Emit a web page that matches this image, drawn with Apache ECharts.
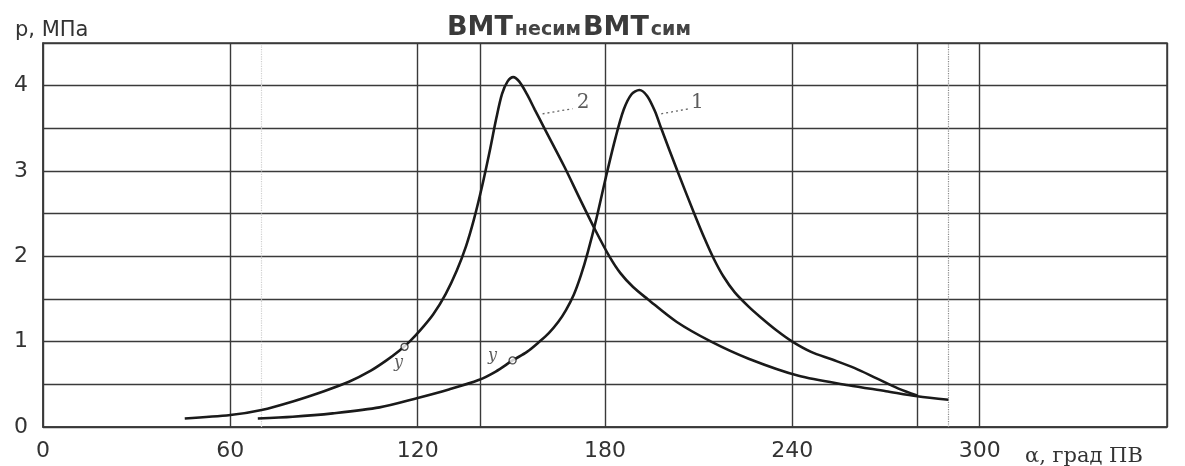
<!DOCTYPE html>
<html>
<head>
<meta charset="utf-8">
<script src="https://cdn.jsdelivr.net/npm/echarts@6/dist/echarts.min.js"></script>
<style>
  html, body { margin: 0; padding: 0; background: #fff; }
  #chart { width: 1185px; height: 466px; }
</style>
</head>
<body>
<div id="chart"></div>
<script>
// кривая 2 (несимметричная ВМТ)
var curve2Alpha = [45.4, 60, 70, 80, 90, 98, 105, 110, 114, 117.4, 121, 125, 129, 132.5, 135.5, 138, 140.5, 143, 145.2, 147, 148.8, 150.6, 152.5, 155, 157.5, 160.6, 167, 172, 177, 181.4, 185, 189, 193.6, 203, 214, 226, 242, 258, 270, 280, 290];
var curve2P     = [0.1, 0.14, 0.2, 0.3, 0.42, 0.53, 0.66, 0.78, 0.89, 1.0, 1.14, 1.32, 1.56, 1.83, 2.12, 2.43, 2.8, 3.22, 3.62, 3.9, 4.05, 4.1, 4.05, 3.9, 3.72, 3.5, 3.05, 2.67, 2.3, 2.0, 1.8, 1.64, 1.5, 1.23, 1.0, 0.8, 0.6, 0.49, 0.42, 0.36, 0.32];

// кривая 1 (симметричная ВМТ)
var curve1Alpha = [68.8, 80, 92.8, 107.8, 120, 130, 139.5, 145, 150.4, 155, 159, 162, 165, 167.5, 170, 172.3, 174.5, 177.3, 180.3, 183.3, 186, 188.5, 191, 193.5, 196, 198, 203.2, 208.6, 212, 215, 218, 221.5, 226, 230, 235, 240, 246, 252.8, 260, 267, 274, 280];
var curve1P     = [0.1, 0.12, 0.16, 0.23, 0.34, 0.44, 0.55, 0.65, 0.78, 0.88, 1.0, 1.1, 1.23, 1.37, 1.55, 1.78, 2.05, 2.45, 2.93, 3.38, 3.72, 3.9, 3.95, 3.88, 3.7, 3.5, 3.0, 2.5, 2.2, 1.96, 1.76, 1.58, 1.41, 1.28, 1.13, 1.0, 0.88, 0.79, 0.69, 0.57, 0.45, 0.37];

// точки "у"
var markAlpha = [115.8, 150.4];
var markP     = [0.94, 0.78];

// номера кривых и выноски
var annoText   = ['2', '1'];
var annoAlpha  = [173, 209.6];
var annoP      = [3.8, 3.8];
var leaderFrom = [[160, 3.67], [198, 3.67]];
var leaderTo   = [[169.6, 3.73], [207, 3.73]];

// оси
var xTicks = [0, 60, 120, 180, 240, 300];
var yTicks = [0, 1, 2, 3, 4];
var extraSolid  = [140, 280];
var extraDotted = [70, 290];

function pairs(xs, ys) {
    var out = [];
    for (var i = 0; i < xs.length; i++) out.push([xs[i], ys[i]]);
    return out;
}

var chart = echarts.init(document.getElementById('chart'));

var ink = '#1a1a1a';
var gridInk = '#3a3a3a';

var series = [
    {
        name: '2', type: 'line', data: pairs(curve2Alpha, curve2P),
        smooth: 0.3, symbol: 'none',
        lineStyle: { color: ink, width: 2.6 }, z: 5
    },
    {
        name: '1', type: 'line', data: pairs(curve1Alpha, curve1P),
        smooth: 0.3, symbol: 'none',
        lineStyle: { color: ink, width: 2.6 }, z: 5,
        markLine: {
            silent: true, symbol: ['none', 'none'], label: { show: false },
            data: extraSolid.map(function (v) {
                return { xAxis: v, lineStyle: { color: gridInk, width: 1.4, type: 'solid' } };
            }).concat(extraDotted.map(function (v, i) {
                return { xAxis: v, lineStyle: { color: i === 0 ? '#d0d0d0' : '#8a8a8a', width: 1.2, type: 'dotted' } };
            }))
        }
    },
    {
        type: 'scatter', symbol: 'circle', symbolSize: 7, z: 6,
        data: pairs(markAlpha, markP).map(function (p, i) {
            return { value: p, label: { offset: i === 0 ? [-6, 16] : [-20, -5] } };
        }),
        itemStyle: { color: '#fff', borderColor: ink, borderWidth: 1.3 },
        label: {
            show: true, formatter: 'у', position: 'inside',
            fontFamily: 'DejaVu Serif', fontStyle: 'italic', fontSize: 16, color: '#333'
        }
    }
];

for (var k = 0; k < annoText.length; k++) {
    series.push({
        type: 'line', data: [leaderFrom[k], leaderTo[k]], symbol: 'none', silent: true,
        lineStyle: { color: '#666', width: 1.3, type: [2, 3] }, z: 4
    });
    series.push({
        type: 'scatter', data: [[annoAlpha[k], annoP[k]]], symbolSize: 0, silent: true,
        label: {
            show: true, formatter: annoText[k], position: 'inside',
            fontFamily: 'DejaVu Serif', fontSize: 20, color: '#333'
        }
    });
}

var option = {
    backgroundColor: '#fff',
    animation: false,
    title: [
        {
            left: 442, top: 9,
            text: '{b|ВМТ}{s|несим}{b|ВМТ}{s|сим}',
            textStyle: {
                rich: {
                    b: { fontFamily: 'DejaVu Sans', fontWeight: 'bold', fontSize: 27, color: '#3a3a3a', verticalAlign: 'bottom' },
                    s: { fontFamily: 'DejaVu Sans', fontSize: 19, color: '#444', verticalAlign: 'bottom', padding: [0, 2, 1, 2] }
                }
            }
        },
        {
            left: 10, top: 15, text: 'р, МПа',
            textStyle: { fontFamily: 'DejaVu Sans', fontWeight: 'normal', fontSize: 21, color: '#333' }
        },
        {
            left: 1020, top: 441, text: 'α, град ПВ',
            textStyle: { fontFamily: 'DejaVu Serif', fontWeight: 'normal', fontSize: 21, color: '#333' }
        }
    ],
    grid: {
        left: 43, right: 18, top: 43, bottom: 39,
        show: true, borderColor: gridInk, borderWidth: 1.5, backgroundColor: '#fff'
    },
    xAxis: {
        type: 'value', min: 0, max: 360, interval: 60,
        axisLine: { show: true, lineStyle: { color: gridInk, width: 1.5 } },
        axisTick: { show: false },
        splitLine: { show: true, lineStyle: { color: gridInk, width: 1.4 } },
        axisLabel: {
            margin: 13, fontFamily: 'DejaVu Sans', fontSize: 22, color: '#333',
            formatter: function (v) { return xTicks.indexOf(v) >= 0 ? String(v) : ''; }
        }
    },
    yAxis: {
        type: 'value', min: 0, max: 4.5, interval: 0.5,
        axisLine: { show: true, lineStyle: { color: gridInk, width: 1.5 } },
        axisTick: { show: false },
        splitLine: { show: true, lineStyle: { color: gridInk, width: 1.4 } },
        axisLabel: {
            margin: 15, fontFamily: 'DejaVu Sans', fontSize: 22, color: '#333',
            formatter: function (v) { return yTicks.indexOf(v) >= 0 ? String(v) : ''; }
        }
    },
    series: series
};

chart.setOption(option);
</script>
</body>
</html>
